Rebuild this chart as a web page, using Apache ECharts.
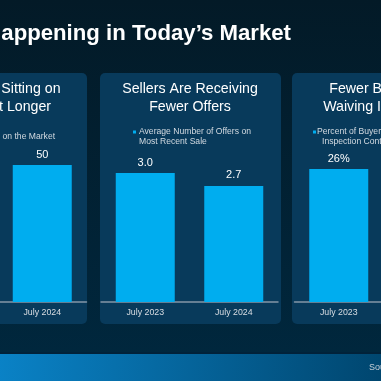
<!DOCTYPE html>
<html>
<head>
<meta charset="utf-8">
<script src="https://cdn.jsdelivr.net/npm/echarts@6/dist/echarts.min.js"></script>
<style>
html,body{margin:0;padding:0;background:#031a28;overflow:hidden;width:381px;height:381px;}
#c{position:absolute;left:-160px;top:0;width:700px;height:381px;}
</style>
</head>
<body>
<div id="c"></div>
<script>
const categories = ['July 2023', 'July 2024'];
const daysOnMarket = [43, 50];
const offersPerSale = [3.0, 2.7];
const waivingInspection = [26, 20];

const mainTitle = 'What\u2019s Happening in Today\u2019s Market';
const panelTitles = ['Homes Are Sitting on\nthe Market Longer', 'Sellers Are Receiving\nFewer Offers', 'Fewer Buyers Are\nWaiving Inspections'];
const legendNames = ['Median Days on the Market', 'Average Number of Offers on\nMost Recent Sale', 'Percent of Buyers Waiving\nInspection Contingency'];
const sourceText = 'Source: NAR, Realtor.com';

const FONT = '"Liberation Sans", Arial, sans-serif';
const BAR = '#00adef';
const PANEL = '#083a5b';
const OX = 160; // canvas offset: canvas x = page x + OX

const chart = echarts.init(document.getElementById('c'), null, {renderer: 'canvas'});

const gridLefts = [-90.5, 101, 294.5].map(v => v + OX);
const yMax = [55.47, 3.535, 29.71];
const dataSets = [daysOnMarket, offersPerSale, waivingInspection];
const formatters = [
  p => String(p.value),
  p => p.value.toFixed(1),
  p => p.value + '%'
];

const grids = gridLefts.map(l => ({left: l, width: 177, top: 150, height: 152, containLabel: false}));
const xAxes = gridLefts.map((l, i) => ({
  type: 'category', gridIndex: i, data: categories,
  axisLine: {show: true, lineStyle: {color: '#8497a8', width: 1.5}},
  axisTick: {show: false},
  axisLabel: {color: '#d9dde2', fontSize: 8.8, fontFamily: FONT, margin: 6}
}));
const yAxes = gridLefts.map((l, i) => ({
  type: 'value', gridIndex: i, min: 0, max: yMax[i],
  show: false, splitLine: {show: false}
}));
const series = dataSets.map((d, i) => ({
  type: 'bar', name: legendNames[i].replace('\n', ' '), xAxisIndex: i, yAxisIndex: i,
  data: d, barWidth: 59, itemStyle: {color: BAR},
  label: {show: true, position: 'top', distance: 5, color: '#ffffff', fontSize: 11, fontFamily: FONT, formatter: formatters[i]}
}));

const graphic = [
  // panels
  {type: 'rect', z: -5, shape: {x: -95 + OX, y: 73, width: 182, height: 251, r: 5}, style: {fill: PANEL}},
  {type: 'rect', z: -5, shape: {x: 100 + OX, y: 73, width: 181, height: 251, r: 5}, style: {fill: PANEL}},
  {type: 'rect', z: -5, shape: {x: 292 + OX, y: 73, width: 182, height: 251, r: 5}, style: {fill: PANEL}},
  // footer
  {type: 'rect', z: -5, shape: {x: OX, y: 352, width: 381, height: 2}, style: {fill: '#01223a'}},
  {type: 'rect', z: -5, shape: {x: OX, y: 354, width: 381, height: 27}, style: {fill: new echarts.graphic.LinearGradient(0, 0, 1, 1, [{offset: 0, color: '#0a82c6'}, {offset: 1, color: '#00466f'}])}},
  {type: 'text', z: 10, x: 369 + OX, y: 368, style: {text: sourceText, fill: '#c9d1d9', font: '9px ' + FONT, verticalAlign: 'middle', align: 'left'}},
  // main title
  {type: 'text', z: 10, x: 291 + OX, y: 34, style: {text: mainTitle, fill: '#ffffff', font: 'bold 22.2px ' + FONT, align: 'right', verticalAlign: 'middle'}},
  // panel titles
  {type: 'text', z: 10, x: -6.5 + OX, y: 98, style: {text: panelTitles[0], fill: '#ffffff', font: '14.2px ' + FONT, align: 'center', verticalAlign: 'middle', lineHeight: 17.3}},
  {type: 'text', z: 10, x: 190 + OX, y: 98, style: {text: panelTitles[1], fill: '#ffffff', font: '14.2px ' + FONT, align: 'center', verticalAlign: 'middle', lineHeight: 17.3}},
  {type: 'text', z: 10, x: 386 + OX, y: 98, style: {text: panelTitles[2], fill: '#ffffff', font: '14.2px ' + FONT, align: 'center', verticalAlign: 'middle', lineHeight: 17.3}},
  // legends
  {type: 'rect', z: 10, shape: {x: -56 + OX, y: 135.5, width: 3, height: 3}, style: {fill: BAR}},
  {type: 'text', z: 10, x: -50 + OX, y: 137, style: {text: legendNames[0], fill: '#d3dae1', font: '8.6px ' + FONT, align: 'left', verticalAlign: 'middle'}},
  {type: 'rect', z: 10, shape: {x: 133 + OX, y: 130.5, width: 3, height: 3}, style: {fill: BAR}},
  {type: 'text', z: 10, x: 139 + OX, y: 137, style: {text: legendNames[1], fill: '#d3dae1', font: '8.6px ' + FONT, align: 'left', verticalAlign: 'middle', lineHeight: 10}},
  {type: 'rect', z: 10, shape: {x: 313 + OX, y: 130.5, width: 3, height: 3}, style: {fill: BAR}},
  {type: 'text', z: 10, x: 317 + OX, y: 132, style: {text: legendNames[2].split('\n')[0], fill: '#d3dae1', font: '8.6px ' + FONT, align: 'left', verticalAlign: 'middle'}},
  {type: 'text', z: 10, x: 322 + OX, y: 142, style: {text: legendNames[2].split('\n')[1], fill: '#d3dae1', font: '8.6px ' + FONT, align: 'left', verticalAlign: 'middle'}}
];

chart.setOption({
  backgroundColor: new echarts.graphic.LinearGradient(0, 0, 0, 1, [{offset: 0, color: '#031a27'}, {offset: 1, color: '#00283f'}]),
  animation: false,
  grid: grids,
  xAxis: xAxes,
  yAxis: yAxes,
  series: series,
  graphic: graphic
});
</script>
</body>
</html>
